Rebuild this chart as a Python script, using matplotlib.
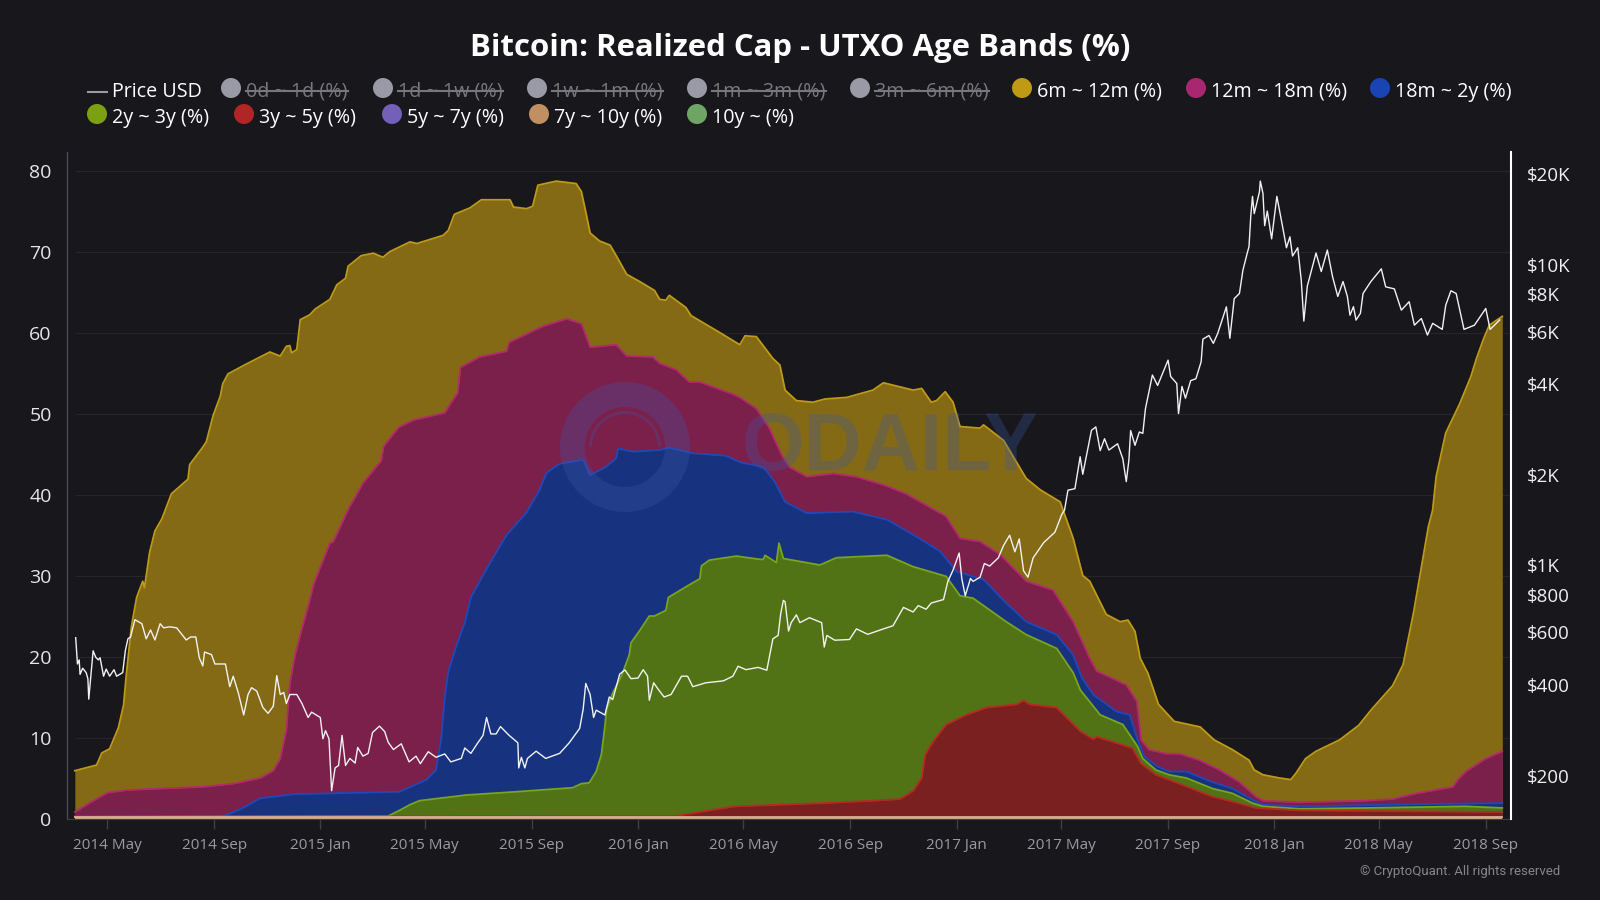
import numpy as np
import pandas as pd
import matplotlib
matplotlib.use("Agg")
import matplotlib.pyplot as plt
from matplotlib.patches import Circle, Wedge
from matplotlib.ticker import FixedLocator, FixedFormatter

plt.rcParams['font.family'] = ['Open Sans', 'DejaVu Sans']

# all band values are the top edge of the stack (%), days since 2014-03-25
START = pd.Timestamp('2014-03-25')

gold_days = [0,25,31,40,50,56,59,65,71,78,80,86,92,100,111,130,132,146,151,159,167,170,176,195,224,236,243,247,249,255,259,270,276,293,301,311,314,329,343,354,362,385,393,423,429,436,454,467,500,504,519,526,532,553,576,582,588,592,603,615,622,634,649,666,672,679,683,702,708,741,764,770,783,802,810,816,829,848,862,887,917,929,948,963,973,984,990,1000,1009,1017,1040,1044,1067,1093,1109,1132,1147,1158,1166,1185,1201,1210,1218,1224,1233,1245,1263,1293,1309,1330,1349,1355,1365,1384,1397,1403,1414,1426,1453,1475,1490,1514,1526,1538,1555,1560,1564,1575,1591,1604,1610,1618,1625,1633,1640]
gold_top = [5.9,6.6,8.1,8.6,11.2,14,17.6,23.7,27.3,29.3,28.5,32.9,35.5,37,40.1,41.9,43.7,45.7,46.5,49.8,52.1,53.7,54.9,56,57.6,57.1,58.3,58.4,57.5,57.9,61.6,62.2,62.9,64.1,65.9,66.7,68.2,69.5,69.8,69.3,70,71.2,71,72,72.6,74.6,75.4,76.4,76.4,75.5,75.3,75.6,78.2,78.7,78.4,77.4,74.4,72.3,71.3,70.8,69.5,67.2,66.3,65.2,64.1,64,64.6,63.1,62.1,60,58.5,59.6,59.5,56.8,56,52.9,51.6,51.4,51.8,52,52.9,53.8,53.3,52.9,53.1,51.4,51.6,52.7,51.4,48.4,48.2,48.6,46.7,42,40.6,39.1,34.6,30,29.3,25.2,24.3,24.5,23.1,19.8,17.9,14.1,12,11.3,9.7,8.5,7.2,6,5.4,5,4.8,5.6,7.4,8.3,9.7,11.5,13.5,16.4,19,25.4,36,38.1,42.2,47.6,51.2,54.6,56.7,59.1,60.9,61.5,62]

magenta_days = [0,15,31,38,59,98,147,182,213,228,236,243,247,253,259,270,274,276,293,297,316,320,331,352,355,372,389,425,429,440,443,465,496,499,538,565,582,586,592,622,634,664,672,691,706,718,756,764,783,798,812,821,841,871,898,929,955,978,1001,1017,1040,1063,1093,1124,1147,1166,1174,1208,1220,1225,1234,1254,1269,1292,1315,1338,1357,1365,1407,1483,1514,1541,1583,1589,1598,1621,1640]
magenta_top = [0.8,1.8,2.8,3.2,3.5,3.7,3.9,4.3,5,5.9,7.4,10.9,16.6,20.2,22.7,27,28.8,29.4,34,34.2,38.6,39.3,41.4,44.2,46,48.3,49.2,50.1,50.8,52.6,55.7,57,57.7,58.8,60.8,61.7,61.1,60,58.2,58.5,57.1,57,56.2,55.4,53.9,53.9,52.4,52,50.6,48.2,44.9,43.4,42.2,42.6,42.2,41.2,40.1,38.7,37.3,34.6,34.2,32.6,29.3,28.2,24.3,19.8,18.2,16.5,14.5,9.7,8.5,8,8,7.2,6,4.5,2.7,2.2,2,2.2,2.4,3.1,3.9,4.8,5.8,7.4,8.3]

blue_days = [0,170,178,193,213,251,373,404,415,421,425,429,438,448,455,475,496,519,534,542,557,584,592,610,622,624,641,672,683,710,748,764,791,804,816,841,894,933,967,994,1013,1044,1070,1093,1128,1147,1157,1170,1197,1212,1221,1229,1244,1257,1277,1307,1330,1353,1365,1407,1560,1640]
blue_top = [0.3,0.3,0.6,1.3,2.5,3,3.3,4.8,6,9.9,15,18.1,21.2,24.2,27.3,31.2,35,37.8,40.6,42.7,43.8,44.3,42.4,43.4,44.5,45.7,45.3,45.5,45.8,45.1,44.8,44,43.4,41.6,39.1,37.7,37.9,36.9,34.8,33,30.5,29.5,26.6,24.3,22.7,20.2,17.4,15.3,13.2,12.8,9.7,7.6,6.4,5.8,5.8,4.5,3.7,2.3,1.7,1.5,1.8,1.9]

green_days = [0,360,373,385,396,450,507,572,582,591,599,605,609,611,618,628,637,639,649,660,666,679,682,702,718,720,729,760,787,791,793,806,809,814,856,875,933,963,1001,1017,1032,1070,1093,1128,1147,1155,1178,1204,1221,1227,1242,1257,1277,1307,1330,1353,1365,1407,1483,1598,1640]
green_top = [0.2,0.3,1.0,1.7,2.2,2.9,3.3,3.8,4.3,4.4,5.8,7.9,11.4,13.5,15.5,17.6,20.2,21.7,23.2,25,25,25.7,27.3,28.6,29.6,31.2,31.9,32.4,32,32,32.5,31.6,34,32.1,31.3,32.2,32.5,31.1,29.9,27.5,27.2,24.3,22.7,21,18,15.9,12.8,11.6,8.9,7.4,6,5.4,5,3.7,3.1,1.9,1.5,1.2,1.3,1.5,1.3]

red_days = [0,690,723,758,860,917,948,963,973,977,986,1001,1024,1047,1082,1090,1097,1128,1155,1170,1174,1215,1225,1242,1269,1307,1330,1357,1407,1640]
red_top = [0.2,0.3,0.9,1.5,1.9,2.2,2.4,3.4,5,7.9,9.5,11.6,12.8,13.7,14.1,14.6,14.1,13.7,10.8,9.8,10.1,8.7,6.8,5.4,4.3,2.7,2.1,1.3,1,0.8]

old_days = [0,1640]
old_top = [0.15,0.15]

price_days = [1,3,5,6,9,13,15,16,18,21,24,27,29,33,36,40,45,48,55,58,61,64,69,73,77,82,87,92,98,102,109,117,128,133,139,143,147,149,157,161,167,173,178,182,188,194,199,203,209,216,222,228,232,236,240,243,247,255,261,268,272,282,285,288,292,295,299,303,307,311,316,322,325,331,337,342,350,356,360,366,375,384,392,397,406,415,425,432,444,448,455,463,469,473,478,484,489,499,509,510,513,517,520,530,541,557,568,580,584,587,592,596,599,609,614,618,626,632,639,647,653,658,660,665,670,677,685,697,704,710,725,745,756,762,771,785,795,802,808,811,814,816,820,823,829,833,844,858,861,864,873,890,898,911,929,940,952,963,969,978,984,998,1003,1009,1016,1019,1023,1029,1032,1040,1045,1051,1061,1067,1074,1080,1085,1090,1095,1101,1113,1126,1134,1137,1141,1149,1155,1158,1168,1173,1178,1183,1188,1198,1204,1208,1211,1213,1218,1223,1227,1230,1238,1244,1256,1259,1266,1268,1272,1276,1282,1288,1294,1296,1303,1308,1313,1323,1327,1332,1338,1342,1347,1349,1351,1353,1355,1361,1362,1365,1367,1370,1375,1381,1388,1392,1396,1399,1405,1409,1412,1416,1426,1432,1439,1445,1451,1457,1462,1465,1469,1472,1477,1480,1489,1501,1506,1516,1524,1533,1539,1547,1554,1560,1571,1575,1581,1587,1596,1608,1621,1626,1631,1637]
price_usd = [575,470,485,434,455,440,420,359,415,520,495,485,493,428,452,428,450,428,440,520,570,578,660,650,640,570,610,565,640,620,625,620,565,578,578,493,463,515,505,470,470,470,395,428,375,318,372,392,382,337,322,340,430,372,378,347,372,372,347,312,325,312,265,282,265,178,212,216,272,216,228,220,248,232,237,278,292,280,258,244,255,222,232,219,240,230,236,222,228,247,237,257,272,312,275,275,291,272,257,212,230,212,228,241,228,237,257,287,332,405,372,312,330,318,365,358,435,449,420,422,450,428,356,407,388,365,372,428,428,395,407,413,428,462,450,458,448,570,585,692,765,757,605,645,685,645,670,645,535,585,564,567,615,590,615,630,725,700,735,715,750,770,885,965,1100,905,793,905,885,914,1015,995,1060,1165,1260,1110,1225,960,914,1060,1190,1290,1480,1526,1780,1800,2300,2010,2815,2890,2410,2640,2420,2540,2265,1900,2240,2810,2510,2780,2750,3320,4300,3970,4820,4250,4030,3200,3940,3600,4120,4180,4760,5660,5820,5480,5910,7250,5700,7720,8030,9600,10950,11500,14500,16900,14800,17500,19000,17300,13500,15100,12200,16900,13200,11400,12400,10700,11400,8900,6500,8500,10950,9500,11200,9130,7850,8800,7850,6800,7260,6550,6900,8030,8800,9700,8450,8320,7070,7540,6300,6630,5840,6390,6100,7340,8200,8030,6100,6300,7160,6100,6300,6560]

pct_ticks = [0,10,20,30,40,50,60,70,80]
price_ticks = [200,400,600,800,1000,2000,4000,6000,8000,10000,20000]
price_labels = ['$200','$400','$600','$800','$1K','$2K','$4K','$6K','$8K','$10K','$20K']

BG = '#17171c'

def to_dates(days):
    return START + pd.to_timedelta(np.array(days), unit='D')

fig = plt.figure(figsize=(16, 9), dpi=100, facecolor=BG)

# axes box in reference pixels: x 67-1511, y 152-818.5
ax = fig.add_axes([67/1600, (900-818.5)/900, (1511-67)/1600, (818.5-152)/900], facecolor=BG)

x_left = START + pd.Timedelta(days=-9)
x_right = START + pd.Timedelta(days=1650)

ax.hlines(pct_ticks[1:], START, x_right, color='#25252a', lw=0.9, zorder=1)

# bands, back to front, each filled down to zero
bands = [
    (gold_days, gold_top, '#846a14', '#bd9a18'),
    (magenta_days, magenta_top, '#7b1f4b', '#b32a6c'),
    (blue_days, blue_top, '#17337f', '#1f48b8'),
    (green_days, green_top, '#527216', '#78a51e'),
    (red_days, red_top, '#7b2020', '#b52a22'),
    (old_days, old_top, '#c9a27c', '#d8b090'),
]
for n, (days, top, fill, edge) in enumerate(bands):
    ax.fill_between(to_dates(days), 0, top, color=fill, lw=0, zorder=2 + n)
    ax.plot(to_dates(days), top, color=edge, lw=1.3, zorder=2 + n)

ax.set_xlim(x_left, x_right)
ax.set_ylim(0, 82.3)

ticks = pd.date_range('2014-05-01', '2018-09-01', freq='4MS')
ax.set_xticks(ticks)
ax.set_xticklabels([t.strftime('%Y %b') for t in ticks])
ax.set_yticks(pct_ticks)
ax.tick_params(axis='x', colors='#3e3e45', labelcolor='#9a9aa2', labelsize=11, length=7, width=1, pad=7)
ax.tick_params(axis='y', length=0, labelcolor='#e6e6e6', labelsize=14, pad=11)
for s in ['top', 'right']:
    ax.spines[s].set_visible(False)
ax.spines['left'].set_color('#4a4a52')
ax.spines['left'].set_linewidth(1)
ax.spines['bottom'].set_color('#3e3e45')

# price on log axis
ax2 = ax.twinx()
ax2.plot(to_dates(price_days), price_usd, color='#f2f2f2', lw=1.0, zorder=5)
ax2.set_yscale('log')
ax2.set_ylim(143.9, 23740)
ax2.yaxis.set_major_locator(FixedLocator(price_ticks))
ax2.yaxis.set_major_formatter(FixedFormatter(price_labels))
ax2.yaxis.set_minor_locator(FixedLocator([]))
ax2.tick_params(axis='y', length=0, labelcolor='#f0f0f0', labelsize=13.5, pad=11.5)
for s in ['top', 'left', 'bottom']:
    ax2.spines[s].set_visible(False)
ax2.spines['right'].set_color('white')
ax2.spines['right'].set_linewidth(1.5)

# overlay in reference pixels for title, legend, watermark
ov = fig.add_axes([0, 0, 1, 1], facecolor='none')
ov.set_xlim(0, 1600)
ov.set_ylim(900, 0)
ov.axis('off')

# watermark
WM = '#3d5aa6'
ov.add_patch(Wedge((625, 447), 65, 0, 360, width=25, color=WM, alpha=0.3, lw=0))
ov.add_patch(Wedge((625, 447), 36, 180, 360, width=3, color=WM, alpha=0.3, lw=0))
ov.text(890, 449, 'ODAILY', color=WM, alpha=0.3, fontsize=58, fontweight='bold',
        family='Liberation Sans', ha='center', va='center')

ov.text(800, 48, 'Bitcoin: Realized Cap - UTXO Age Bands (%)', color='white',
        fontsize=22.4, fontweight='bold', ha='center', va='center')

# legend
ov.plot([88, 107], [92, 92], color='#9a9aa2', lw=1.5)
ov.text(112, 92, 'Price USD', color='white', fontsize=14.2, va='center')

legend_names = ['0d ~ 1d (%)', '1d ~ 1w (%)', '1w ~ 1m (%)', '1m ~ 3m (%)', '3m ~ 6m (%)',
                '6m ~ 12m (%)', '12m ~ 18m (%)', '18m ~ 2y (%)',
                '2y ~ 3y (%)', '3y ~ 5y (%)', '5y ~ 7y (%)', '7y ~ 10y (%)', '10y ~ (%)']
legend_colors = ['#9a9aa6'] * 5 + ['#bf9a14', '#a8276e', '#1a44b4',
                 '#7ca012', '#b02626', '#7460b8', '#c08f62', '#6fa564']
legend_x = [231, 383, 537, 697, 860, 1022, 1196, 1380, 97, 244, 392, 539, 697]
legend_y = [88] * 8 + [114] * 5
legend_off = [True] * 5 + [False] * 8

renderer = fig.canvas.get_renderer()
for name, col, lx, ly, off in zip(legend_names, legend_colors, legend_x, legend_y, legend_off):
    ov.add_patch(Circle((lx, ly), 10, color=col, lw=0))
    t = ov.text(lx + 15, ly + 4, name, color='#77777d' if off else 'white', fontsize=14.2, va='center')
    if off:
        bb = t.get_window_extent(renderer)
        ov.plot([bb.x0, bb.x1], [ly + 3, ly + 3], color='#77777d', lw=1.5)

ov.text(1560, 872, '\u00a9 CryptoQuant. All rights reserved', color='#85858b', fontsize=9.5,
        family='Roboto', ha='right', va='center')

ov.set_xlim(0, 1600)
ov.set_ylim(900, 0)

fig.savefig('out.png', dpi=100, facecolor=BG)
